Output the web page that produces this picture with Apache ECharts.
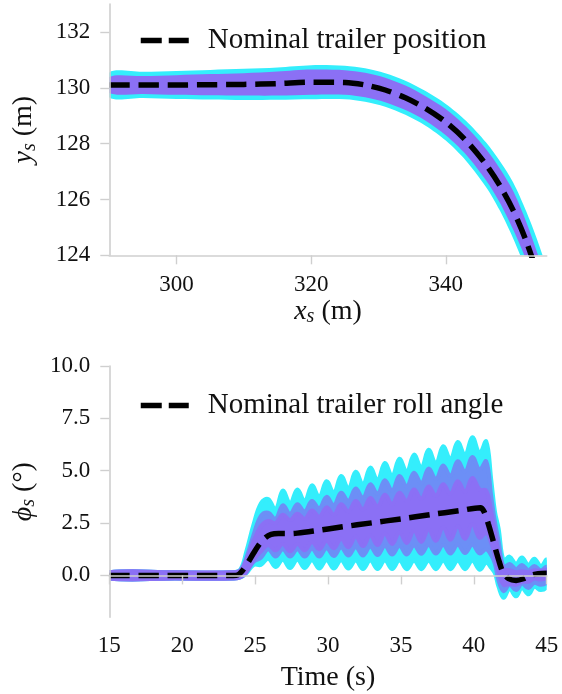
<!DOCTYPE html>
<html>
<head>
<meta charset="utf-8">
<script src="https://cdn.jsdelivr.net/npm/echarts@6/dist/echarts.min.js"></script>
<style>
  html, body { margin: 0; padding: 0; background: #ffffff; }
  #chart { width: 562px; height: 694px; }
</style>
</head>
<body>
<div id="chart"></div>
<script>
// ---- Trailer position (top panel): x_s in m, y_s in m ----
const posX = [290, 295, 300, 305, 310, 315, 320, 325, 328, 331, 334, 337, 340, 343, 346, 348, 350, 352, 354, 356];
const posNominal = [130.10, 130.10, 130.10, 130.11, 130.12, 130.15, 130.20, 130.19, 130.10, 129.92, 129.64, 129.26, 128.77, 128.11, 127.24, 126.51, 125.62, 124.48, 123.03, 121.33];
// Spread of the Monte Carlo runs around the nominal path
const posOuterHigh = [130.55, 130.57, 130.60, 130.64, 130.68, 130.73, 130.81, 130.79, 130.70, 130.52, 130.25, 129.88, 129.42, 128.82, 128.04, 127.39, 126.62, 125.55, 124.27, 122.64];
const posOuterLow  = [129.65, 129.63, 129.60, 129.58, 129.56, 129.57, 129.59, 129.59, 129.50, 129.32, 129.03, 128.64, 128.11, 127.39, 126.44, 125.62, 124.61, 123.40, 121.79, 120.02];
const posInnerHigh = [130.39, 130.42, 130.45, 130.49, 130.52, 130.58, 130.65, 130.63, 130.54, 130.36, 130.08, 129.70, 129.24, 128.61, 127.80, 127.12, 126.31, 125.17, 123.80, 122.15];
const posInnerLow  = [129.81, 129.78, 129.75, 129.73, 129.72, 129.72, 129.75, 129.75, 129.66, 129.48, 129.20, 128.82, 128.30, 127.61, 126.68, 125.90, 124.93, 123.79, 122.26, 120.51];
const posXTicks = [300, 320, 340];
const posYTicks = [124, 126, 128, 130, 132];

// ---- Trailer roll angle (bottom panel): time in s, phi_s in degrees ----
const rollNomTime = [15, 23.5, 23.8, 24.1, 24.5, 24.9, 25.3, 25.7, 26.1, 26.6, 27.5, 27.9, 29, 31, 33, 35, 37, 39, 40.45, 40.7, 41.0, 41.35, 41.7, 42.0, 42.4, 42.9, 43.4, 43.9, 44.4, 45];
const rollNominal = [0, 0, 0.02, 0.2, 0.6, 1.07, 1.5, 1.8, 1.96, 2.0, 2.0, 2.02, 2.12, 2.32, 2.51, 2.70, 2.90, 3.09, 3.23, 3.05, 2.45, 1.6, 0.75, 0.15, -0.16, -0.24, -0.16, 0.0, 0.08, 0.1];
// Envelopes of the Monte Carlo runs (peaks and troughs of the oscillation)
const rollBandTime = [15, 19.5, 23.5, 24.0, 24.4, 24.9, 25.4, 25.9, 26.4, 26.9, 27.4, 27.9, 28.4, 28.9, 29.4, 29.9, 30.4, 30.9, 31.4, 31.9, 32.4, 32.9, 33.4, 33.9, 34.4, 34.9, 35.4, 35.9, 36.4, 36.9, 37.4, 37.9, 38.4, 38.9, 39.4, 39.9, 40.4, 40.85, 41.2, 41.45, 41.7, 42.05, 42.45, 42.9, 43.3, 43.75, 44.15, 44.6, 45.0];
const rollOuterHigh = [0.15, 0.15, 0.15, 0.3, 1.15, 2.45, 3.45, 3.65, 3.15, 4.05, 3.45, 4.1, 3.55, 4.3, 3.75, 4.5, 3.95, 4.75, 4.15, 4.95, 4.35, 5.15, 4.55, 5.37, 4.75, 5.57, 4.95, 5.77, 5.15, 6.0, 5.35, 6.17, 5.55, 6.37, 5.75, 6.6, 5.85, 6.4, 4.55, 3.05, 2.25, 0.7, 0.9, 0.55, 0.85, 0.5, 0.8, 0.45, 0.75];
const rollOuterLow  = [-0.15, -0.15, -0.15, -0.1, 0.1, 0.5, 0.5, 0.8, 0.4, 0.75, 0.35, 0.75, 0.35, 0.73, 0.33, 0.73, 0.33, 0.73, 0.33, 0.71, 0.31, 0.71, 0.31, 0.71, 0.31, 0.71, 0.3, 0.7, 0.3, 0.7, 0.3, 0.7, 0.3, 0.7, 0.3, 0.7, 0.27, 0.6, 0.35, 0.1, -0.55, -1.07, -0.65, -1.0, -0.6, -0.9, -0.55, -0.7, -0.5];
const rollMidHigh = [0.15, 0.15, 0.15, 0.26, 0.85, 1.95, 2.85, 3.0, 2.7, 3.35, 2.95, 3.4, 3.05, 3.55, 3.2, 3.75, 3.35, 3.95, 3.55, 4.15, 3.7, 4.35, 3.9, 4.55, 4.05, 4.75, 4.25, 4.9, 4.4, 5.1, 4.6, 5.25, 4.75, 5.45, 4.95, 5.65, 5.05, 5.45, 3.75, 2.55, 1.65, 0.4, 0.55, 0.3, 0.5, 0.25, 0.45, 0.25, 0.4];
const rollMidLow  = [-0.15, -0.15, -0.15, -0.09, 0.17, 0.65, 0.85, 1.25, 0.9, 1.25, 0.9, 1.25, 0.9, 1.27, 0.9, 1.3, 0.93, 1.33, 0.95, 1.35, 0.95, 1.37, 0.97, 1.4, 1.0, 1.4, 1.0, 1.43, 1.03, 1.45, 1.05, 1.45, 1.05, 1.47, 1.07, 1.47, 1.05, 1.25, 0.95, 0.55, -0.25, -0.75, -0.45, -0.7, -0.4, -0.6, -0.35, -0.45, -0.3];
const rollInnerHigh = [0.15, 0.15, 0.15, 0.23, 0.7, 1.65, 2.35, 2.6, 2.5, 2.9, 2.65, 2.95, 2.7, 3.1, 2.8, 3.25, 2.9, 3.4, 3.05, 3.55, 3.15, 3.7, 3.3, 3.85, 3.4, 3.95, 3.55, 4.1, 3.65, 4.25, 3.8, 4.35, 3.9, 4.5, 4.0, 4.65, 4.1, 4.05, 3.05, 2.05, 1.15, 0.3, 0.25, 0.15, 0.2, 0.15, 0.25, 0.2, 0.25];
const rollInnerLow  = [-0.15, -0.15, -0.15, -0.08, 0.15, 0.75, 1.15, 1.45, 1.2, 1.5, 1.15, 1.5, 1.2, 1.6, 1.25, 1.65, 1.3, 1.75, 1.35, 1.85, 1.4, 1.9, 1.45, 2.0, 1.5, 2.05, 1.55, 2.15, 1.6, 2.2, 1.65, 2.3, 1.7, 2.35, 1.75, 2.45, 1.8, 2.05, 1.55, 0.95, 0.15, -0.45, -0.4, -0.45, -0.3, -0.3, -0.15, -0.2, -0.1];
const rollXTicks = [15, 20, 25, 30, 35, 40, 45];
const rollYTicks = [0, 2.5, 5, 7.5, 10];

const SERIF = '"Liberation Serif", "DejaVu Serif", serif';
const CYAN = '#34eefc';
const BLUE = '#6c8ff6';
const PURPLE = '#8b70f5';
const AXIS_GREY = '#cfcfcf';
const INK = '#111111';

// Filled band between a low and a high envelope, mapped through the axes
function band(xs, lo, hi, color, axis, smooth, edge) {
  return {
    type: 'custom',
    xAxisIndex: axis,
    yAxisIndex: axis,
    silent: true,
    z: 2,
    data: [[xs[0], lo[0]]],
    renderItem: function (params, api) {
      const pts = [];
      for (let i = 0; i < xs.length; i++) pts.push(api.coord([xs[i], hi[i]]));
      for (let i = xs.length - 1; i >= 0; i--) pts.push(api.coord([xs[i], lo[i]]));
      const cs = params.coordSys;
      return {
        type: 'group',
        clipPath: { type: 'rect', shape: { x: cs.x, y: cs.y, width: cs.width, height: cs.height } },
        children: [{
          type: 'polygon',
          shape: { points: pts, smooth: smooth },
          style: edge
            ? { fill: color, stroke: color, lineWidth: edge, lineJoin: 'round' }
            : { fill: color, stroke: null }
        }]
      };
    }
  };
}

const nameRich = {
  it: { fontFamily: SERIF, fontSize: 28, fontStyle: 'italic', color: INK },
  sub: { fontFamily: SERIF, fontSize: 20, fontStyle: 'italic', color: INK, padding: [12, 0, 0, 0] },
  rm: { fontFamily: SERIF, fontSize: 28, color: INK }
};

function xAxisCfg(gridIndex, min, max, ticks, name, nameGap, labelMargin) {
  return {
    type: 'value', gridIndex: gridIndex, min: min, max: max,
    name: name, nameLocation: 'middle', nameGap: nameGap,
    nameTextStyle: { fontFamily: SERIF, fontSize: 28, color: INK, rich: nameRich },
    axisLine: { show: true, lineStyle: { color: AXIS_GREY, width: 1.6 } },
    axisTick: { show: true, length: 9, customValues: ticks, lineStyle: { color: AXIS_GREY, width: 1.4 } },
    axisLabel: { customValues: ticks, margin: labelMargin, fontFamily: SERIF, fontSize: 23, color: INK,
      formatter: function (v) { return String(v); } },
    splitLine: { show: false },
    z: 10
  };
}

function yAxisCfg(gridIndex, min, max, ticks, digits, name, nameGap) {
  return {
    type: 'value', gridIndex: gridIndex, min: min, max: max,
    name: name, nameLocation: 'middle', nameGap: nameGap, nameRotate: 90,
    nameTextStyle: { fontFamily: SERIF, fontSize: 28, color: INK, rich: nameRich },
    axisLine: { show: true, lineStyle: { color: AXIS_GREY, width: 1.6 } },
    axisTick: { show: true, length: 9, customValues: ticks, lineStyle: { color: AXIS_GREY, width: 1.4 } },
    axisLabel: { customValues: ticks, margin: 19, fontFamily: SERIF, fontSize: 23, color: INK,
      formatter: function (v) { return digits ? v.toFixed(digits) : String(v); } },
    splitLine: { show: false },
    z: 10
  };
}

function legendCfg(name, top) {
  return {
    data: [name], left: 133, top: top,
    itemWidth: 48, itemHeight: 14,
    selectedMode: false,
    itemStyle: { opacity: 0 },
    lineStyle: { color: '#000', width: 5.5, type: [21, 7], cap: 'butt' },
    formatter: '{t|{name}}',
    textStyle: {
      fontFamily: SERIF, fontSize: 29, color: INK,
      rich: { t: { fontFamily: SERIF, fontSize: 29, color: INK, lineHeight: 30, padding: [0, 0, 0, 14] } }
    }
  };
}

const chart = echarts.init(document.getElementById('chart'), null, { renderer: 'canvas' });

chart.setOption({
  animation: false,
  backgroundColor: '#ffffff',
  grid: [
    { left: 109.3, right: 15.3, top: 4, height: 251.3 },
    { left: 109.3, right: 15.3, top: 366, height: 251.3 }
  ],
  legend: [
    legendCfg('Nominal trailer position', 21),
    legendCfg('Nominal trailer roll angle', 386)
  ],
  xAxis: [
    xAxisCfg(0, 290, 355, posXTicks, '{it|x}{sub|s} {rm|(m)}', 37, 18),
    xAxisCfg(1, 15, 45, rollXTicks, 'Time (s)', 46, 17)
  ],
  yAxis: [
    yAxisCfg(0, 124, 133, posYTicks, 0, '{it|y}{sub|s} {rm|(m)}', 70),
    yAxisCfg(1, -2, 10, rollYTicks, 1, '{it|ϕ}{sub|s} {rm|(°)}', 68)
  ],
  series: [
    band(posX, posOuterLow, posOuterHigh, CYAN, 0, 0.3, 0),
    band(posX, posInnerLow, posInnerHigh, PURPLE, 0, 0.3, 0),
    {
      name: 'Nominal trailer position', type: 'line', xAxisIndex: 0, yAxisIndex: 0,
      data: posX.map(function (x, i) { return [x, posNominal[i]]; }),
      symbol: 'none', smooth: 0.3, clip: true, z: 5,
      lineStyle: { color: '#000', width: 5.5, type: [20.4, 8.8], cap: 'butt' }
    },
    band(rollBandTime, rollOuterLow, rollOuterHigh, CYAN, 1, 0.4, 4),
    band(rollBandTime, rollMidLow, rollMidHigh, BLUE, 1, 0.4, 4),
    band(rollBandTime, rollInnerLow, rollInnerHigh, PURPLE, 1, 0.4, 4),
    {
      name: 'Nominal trailer roll angle', type: 'line', xAxisIndex: 1, yAxisIndex: 1,
      data: rollNomTime.map(function (t, i) { return [t, rollNominal[i]]; }),
      symbol: 'none', smooth: 0.3, clip: true, z: 5,
      lineStyle: { color: '#000', width: 5.5, type: [20.4, 8.8], cap: 'butt' }
    }
  ]
});
</script>
</body>
</html>
